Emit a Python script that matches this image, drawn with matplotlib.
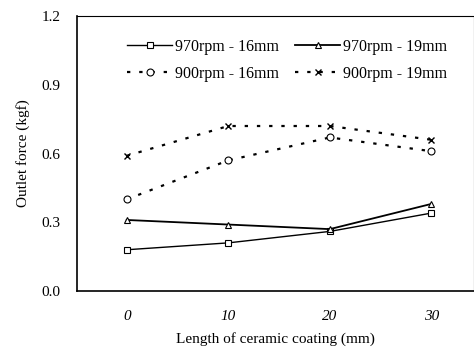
import matplotlib.pyplot as plt

# data
lengths = [0, 10, 20, 30]
f_970_16 = [0.18, 0.21, 0.26, 0.34]
f_970_19 = [0.31, 0.29, 0.27, 0.38]
f_900_16 = [0.40, 0.57, 0.67, 0.61]
f_900_19 = [0.59, 0.72, 0.72, 0.66]
y_ticks = [0.0, 0.3, 0.6, 0.9, 1.2]

plt.rcParams['font.family'] = ['Liberation Serif', 'DejaVu Serif']

fig = plt.figure(figsize=(4.74, 3.52), dpi=100)
ax = fig.add_axes([0.1624, 0.1733, 0.8376, 0.7812])

dash = (0, (1.5, 4))
h1, = ax.plot(lengths, f_970_16, color='black', lw=1.0, marker='s', ms=5, mfc='white',
              mew=0.8, label='970rpm - 16mm')
h2, = ax.plot(lengths, f_970_19, color='black', lw=1.3, marker='^', ms=5, mfc='white',
              mew=0.8, label='970rpm - 19mm')
h3, = ax.plot(lengths, f_900_16, color='black', lw=1.6, ls=dash, marker='o', ms=5, mfc='white',
              mew=0.8, label='900rpm - 16mm')
h4, = ax.plot(lengths, f_900_19, color='black', lw=1.6, ls=dash, marker='x', ms=5,
              mew=1.0, label='900rpm - 19mm')

ax.set_xlim(-4.9, 34.2)
ax.set_ylim(0, 1.2)
ax.set_xticks(lengths)
ax.set_xticklabels([str(v) for v in lengths], style='italic', fontsize=11)
ax.set_yticks(y_ticks)
ax.set_yticklabels([f'{v:.1f}' for v in y_ticks], fontsize=11)
ax.tick_params(length=0, pad=12)
ax.tick_params(axis='x', pad=14)

for s in ax.spines.values():
    s.set_linewidth(0.8)
ax.spines['left'].set_linewidth(1.2)
ax.spines['bottom'].set_linewidth(1.2)

ax.set_ylabel('Outlet force (kgf)', fontsize=11, labelpad=8)
ax.set_xlabel('Length of ceramic coating (mm)', fontsize=11, labelpad=6)

# row-wise order: matplotlib fills legend columns first
handles = [h1, h3, h2, h4]
ax.legend(handles, [h.get_label() for h in handles], ncol=2, loc='upper center',
          bbox_to_anchor=(0.53, 0.97), frameon=False, fontsize=11.5,
          handlelength=2.8, columnspacing=1.0, handletextpad=0.2, labelspacing=0.7)

fig.savefig('out.png', dpi=100)
